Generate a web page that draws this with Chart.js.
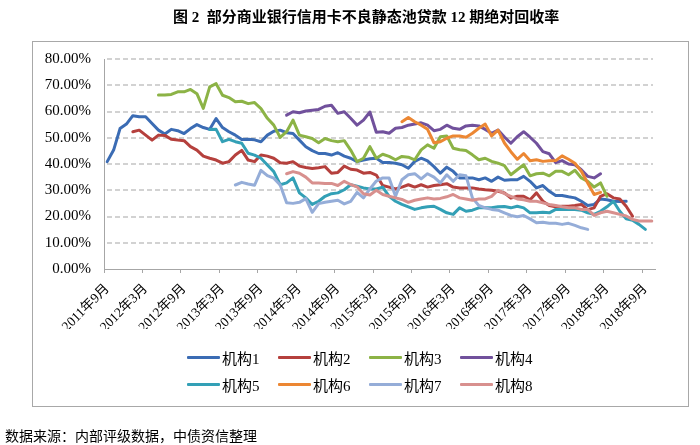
<!DOCTYPE html>
<html>
<head>
<meta charset="utf-8">
<script src="https://cdn.jsdelivr.net/npm/chart.js@4"></script>
<style>
  body { margin: 0; background: #fff; }
  #wrap { position: relative; width: 700px; height: 445px; overflow: hidden; }
  #frame { position: absolute; left: 32px; top: 41px; width: 655px; height: 364px; border: 1.5px solid #a8a8a8; }
  #chart { position: absolute; left: 0; top: 0; }
  #title { position: absolute; left: 173px; top: 5px; font: bold 15px "Liberation Serif", "Noto Sans CJK SC"; white-space: nowrap; color: #000; }
  #source { position: absolute; left: 5px; top: 425px; font: 14px "Noto Sans CJK SC"; white-space: nowrap; color: #000; }
  .item { position: absolute; height: 20px; display: flex; align-items: center; font: 15px "Liberation Serif", "Noto Sans CJK SC"; color: #000; white-space: nowrap; }
  .item span.line { display: inline-block; width: 33px; height: 3px; margin-right: 2px; border-radius: 1px; }
</style>
</head>
<body>
<div id="wrap">
  <div id="frame"></div>
  <canvas id="chart" width="700" height="445"></canvas>
  <div id="title">图 2&nbsp; 部分商业银行信用卡不良静态池贷款 12 期绝对回收率</div>
  <div id="legend"></div>
  <div id="source">数据来源：内部评级数据，中债资信整理</div>
</div>
<script>
// months 2011年9月 .. 2018年10月
const months = [];
for (let k = 0; k < 86; k++) {
  const m = 8 + k;
  months.push((2011 + Math.floor(m / 12)) + "年" + (m % 12 + 1) + "月");
}

const names = ["机构1", "机构2", "机构3", "机构4", "机构5", "机构6", "机构7", "机构8"];
const colors = ["#3b6cb4", "#b5403d", "#8cb346", "#71519c", "#33a0b6", "#ec8733", "#95add8", "#d8908e"];

// first month index of each series
const starts = [0, 4, 8, 28, 16, 46, 20, 28];

const inst1 = [40.9, 45.3, 53.5, 55.2, 58.4, 58.0, 58.0, 55.4, 52.9, 51.4, 53.2, 52.7, 51.6, 53.5, 55.0, 53.9,
  53.2, 57.3, 53.9, 52.3, 51.0, 49.3, 49.4, 49.2, 48.5, 51.0, 52.5, 52.9, 51.9, 51.6, 49.1, 46.6, 45.1, 44.0,
  44.0, 43.4, 44.3, 43.0, 42.2, 40.9, 41.5, 42.0, 42.2, 40.6, 40.6, 40.3, 39.7, 38.4, 41.0, 42.2, 41.2, 39.0,
  36.5, 38.8, 37.2, 34.7, 34.7, 34.7, 34.0, 34.7, 33.4, 35.0, 33.8, 34.0, 34.0, 35.3, 33.4, 30.9, 31.8, 29.6,
  28.0, 28.0, 27.5, 27.1, 25.8, 24.2, 24.6, 26.7, 26.4, 25.8, 25.7, 25.8];
const inst2 = [52.3, 52.9, 51.0, 49.1, 51.0, 50.9, 49.4, 49.1, 48.9, 46.6, 45.3, 43.0, 42.2, 41.5, 40.3, 40.9,
  43.4, 45.2, 41.5, 40.9, 43.4, 43.0, 42.2, 40.5, 40.3, 40.9, 39.2, 38.7, 38.3, 38.6, 39.0, 36.5, 36.8, 39.2,
  38.0, 37.7, 36.5, 36.8, 35.8, 31.8, 31.2, 30.5, 31.2, 32.1, 31.2, 32.1, 31.2, 31.8, 32.1, 32.5, 31.2, 30.9,
  30.9, 30.9, 30.5, 30.2, 30.0, 29.6, 29.0, 27.0, 27.7, 27.7, 26.4, 29.0, 25.8, 24.2, 23.7, 23.9, 23.9, 24.2,
  24.6, 22.6, 23.3, 27.7, 28.7, 27.1, 26.7, 23.9, 20.1];
const inst3 = [66.3, 66.3, 66.5, 67.5, 67.5, 68.4, 66.8, 61.2, 69.4, 70.6, 66.2, 65.3, 63.7, 63.9, 63.0, 63.4,
  61.1, 57.4, 54.8, 50.1, 52.3, 56.7, 51.0, 50.4, 49.7, 48.1, 49.7, 48.9, 48.5, 48.9, 45.3, 40.9, 42.2, 46.6,
  42.2, 43.7, 42.9, 41.6, 42.9, 42.6, 41.6, 45.4, 47.3, 46.0, 50.4, 50.7, 46.0, 45.4, 45.1, 43.5, 41.6, 42.2,
  41.0, 40.3, 39.4, 35.9, 37.8, 39.7, 35.5, 36.3, 36.5, 35.5, 37.2, 37.2, 35.9, 37.6, 34.7, 33.4, 31.2, 32.8,
  27.7];
const inst4 = [58.6, 59.9, 59.5, 60.2, 60.5, 60.8, 62.0, 62.4, 59.3, 59.9, 57.4, 54.8, 56.7, 59.8, 52.1, 52.3,
  51.7, 53.6, 53.9, 54.8, 55.2, 55.7, 54.8, 52.7, 53.2, 54.8, 53.6, 53.2, 54.5, 54.8, 54.5, 53.2, 51.7, 52.9,
  50.3, 47.9, 50.4, 52.3, 50.2, 47.9, 44.7, 43.9, 40.5, 41.3, 40.0, 39.7, 37.8, 35.3, 34.7, 36.3];
const inst5 = [53.1, 53.2, 48.5, 49.4, 48.5, 47.9, 44.1, 43.4, 42.2, 39.6, 37.1, 32.1, 32.8, 34.7, 29.0, 27.1,
  24.6, 25.8, 27.7, 28.7, 29.0, 30.2, 32.1, 31.5, 30.9, 30.5, 30.5, 31.2, 27.7, 25.8, 24.6, 23.7, 22.7, 23.3,
  23.7, 23.9, 22.7, 21.4, 20.8, 23.3, 22.0, 22.4, 23.3, 23.3, 23.3, 23.7, 23.8, 23.3, 23.9, 23.3, 21.4, 21.4,
  21.6, 21.4, 22.7, 22.7, 22.7, 22.7, 22.4, 21.4, 20.8, 22.0, 23.7, 25.8, 22.0, 19.1, 18.6, 17.0, 15.1];
const inst6 = [56.1, 57.7, 56.1, 54.8, 53.2, 48.1, 48.5, 49.8, 50.7, 50.7, 50.2, 51.7, 53.6, 55.2, 50.7, 52.9,
  48.0, 44.7, 41.8, 44.0, 41.2, 41.6, 41.0, 41.2, 41.3, 43.1, 41.8, 40.3, 37.2, 32.8, 28.4, 29.2];
const inst7 = [32.0, 33.0, 32.4, 31.9, 37.6, 35.6, 34.6, 32.0, 25.2, 25.0, 25.4, 26.8, 21.6, 24.9, 25.4, 25.8,
  26.2, 24.8, 25.8, 29.2, 27.1, 30.5, 33.5, 34.7, 34.7, 27.7, 34.0, 35.9, 36.3, 34.3, 36.3, 35.0, 32.8, 35.9,
  33.4, 35.9, 35.5, 27.1, 24.2, 23.3, 22.7, 22.4, 21.4, 20.4, 19.9, 20.4, 19.1, 17.6, 17.8, 17.4, 17.4, 17.0,
  17.4, 16.6, 15.7, 15.1];
const inst8 = [36.3, 37.1, 36.5, 35.0, 32.8, 32.8, 32.6, 32.6, 31.8, 33.4, 32.2, 31.3, 28.7, 28.2, 30.0, 28.4,
  27.7, 27.1, 26.5, 25.4, 26.2, 26.7, 27.1, 26.7, 26.9, 27.5, 28.4, 27.1, 26.7, 26.2, 26.7, 26.7, 27.7, 30.0,
  28.7, 27.7, 26.7, 26.4, 25.8, 25.8, 25.2, 24.6, 24.2, 23.7, 23.3, 23.3, 22.7, 22.7, 20.4, 21.4, 22.0, 21.4,
  20.8, 20.2, 18.9, 18.3, 18.3, 18.3];

const series = [inst1, inst2, inst3, inst4, inst5, inst6, inst7, inst8];
const yTicks = [0, 10, 20, 30, 40, 50, 60, 70, 80];

function pad(start, vals) {
  return Array(start).fill(null).concat(vals);
}

const serif = '"Liberation Serif", "Noto Sans CJK SC"';

// dashed horizontal grid, placed by the y scale
const dashedGrid = {
  id: "dashedGrid",
  beforeDatasetsDraw(chart) {
    const { ctx, chartArea, scales: { y } } = chart;
    ctx.save();
    ctx.strokeStyle = "#c4c4c4";
    ctx.lineWidth = 1.5;
    ctx.setLineDash([5, 3]);
    y.ticks.forEach(t => {
      if (t.value === 0) return;
      const py = Math.round(y.getPixelForValue(t.value));
      ctx.beginPath();
      ctx.moveTo(chartArea.left + 3, py);
      ctx.lineTo(chartArea.right - 2, py);
      ctx.stroke();
    });
    ctx.restore();
  }
};

const chart = new Chart(document.getElementById("chart"), {
  type: "line",
  data: {
    labels: months,
    datasets: series.map((s, i) => ({
      label: names[i],
      data: pad(starts[i], s),
      borderColor: colors[i],
      backgroundColor: colors[i],
      borderWidth: 3,
      pointRadius: 0,
      tension: 0,
      borderJoinStyle: "round",
      borderCapStyle: "round",
      order: 8 - i
    }))
  },
  options: {
    responsive: false,
    animation: false,
    layout: { padding: { left: 0, right: 45, top: 59, bottom: 116 } },
    plugins: {
      legend: { display: false },
      title: { display: false },
      tooltip: { enabled: false }
    },
    scales: {
      x: {
        type: "category",
        offset: true,
        afterFit: s => { s.height = 60; },
        grid: {
          offset: true,
          drawOnChartArea: false,
          drawTicks: true,
          tickLength: 4,
          color: c => (c.index !== undefined && c.index % 6 === 0) ? "#a6a6a6" : "rgba(0,0,0,0)"
        },
        border: { display: true, color: "#a6a6a6", width: 1 },
        ticks: {
          autoSkip: false,
          minRotation: 45,
          maxRotation: 45,
          padding: 8,
          color: "#000",
          font: { family: serif, size: 13.5 },
          callback: (v, i) => i % 6 === 0 ? months[i] : ""
        }
      },
      y: {
        min: 0,
        max: 80,
        afterFit: s => { s.width = 104; },
        afterBuildTicks: s => { s.ticks = yTicks.map(v => ({ value: v })); },
        grid: { display: false, drawTicks: false },
        border: { display: true, color: "#a6a6a6", width: 1 },
        ticks: {
          padding: 13,
          color: "#000",
          font: { family: serif, size: 15 },
          callback: v => v.toFixed(2) + "%"
        }
      }
    }
  },
  plugins: [dashedGrid]
});

// legend built from the datasets, 4 per row
const legend = document.getElementById("legend");
chart.data.datasets.forEach((ds, i) => {
  const el = document.createElement("div");
  el.className = "item";
  el.style.left = (187 + (i % 4) * 91) + "px";
  el.style.top = (347 + Math.floor(i / 4) * 27) + "px";
  el.innerHTML = '<span class="line" style="background:' + ds.borderColor + '"></span>' + ds.label;
  legend.appendChild(el);
});
</script>
</body>
</html>
